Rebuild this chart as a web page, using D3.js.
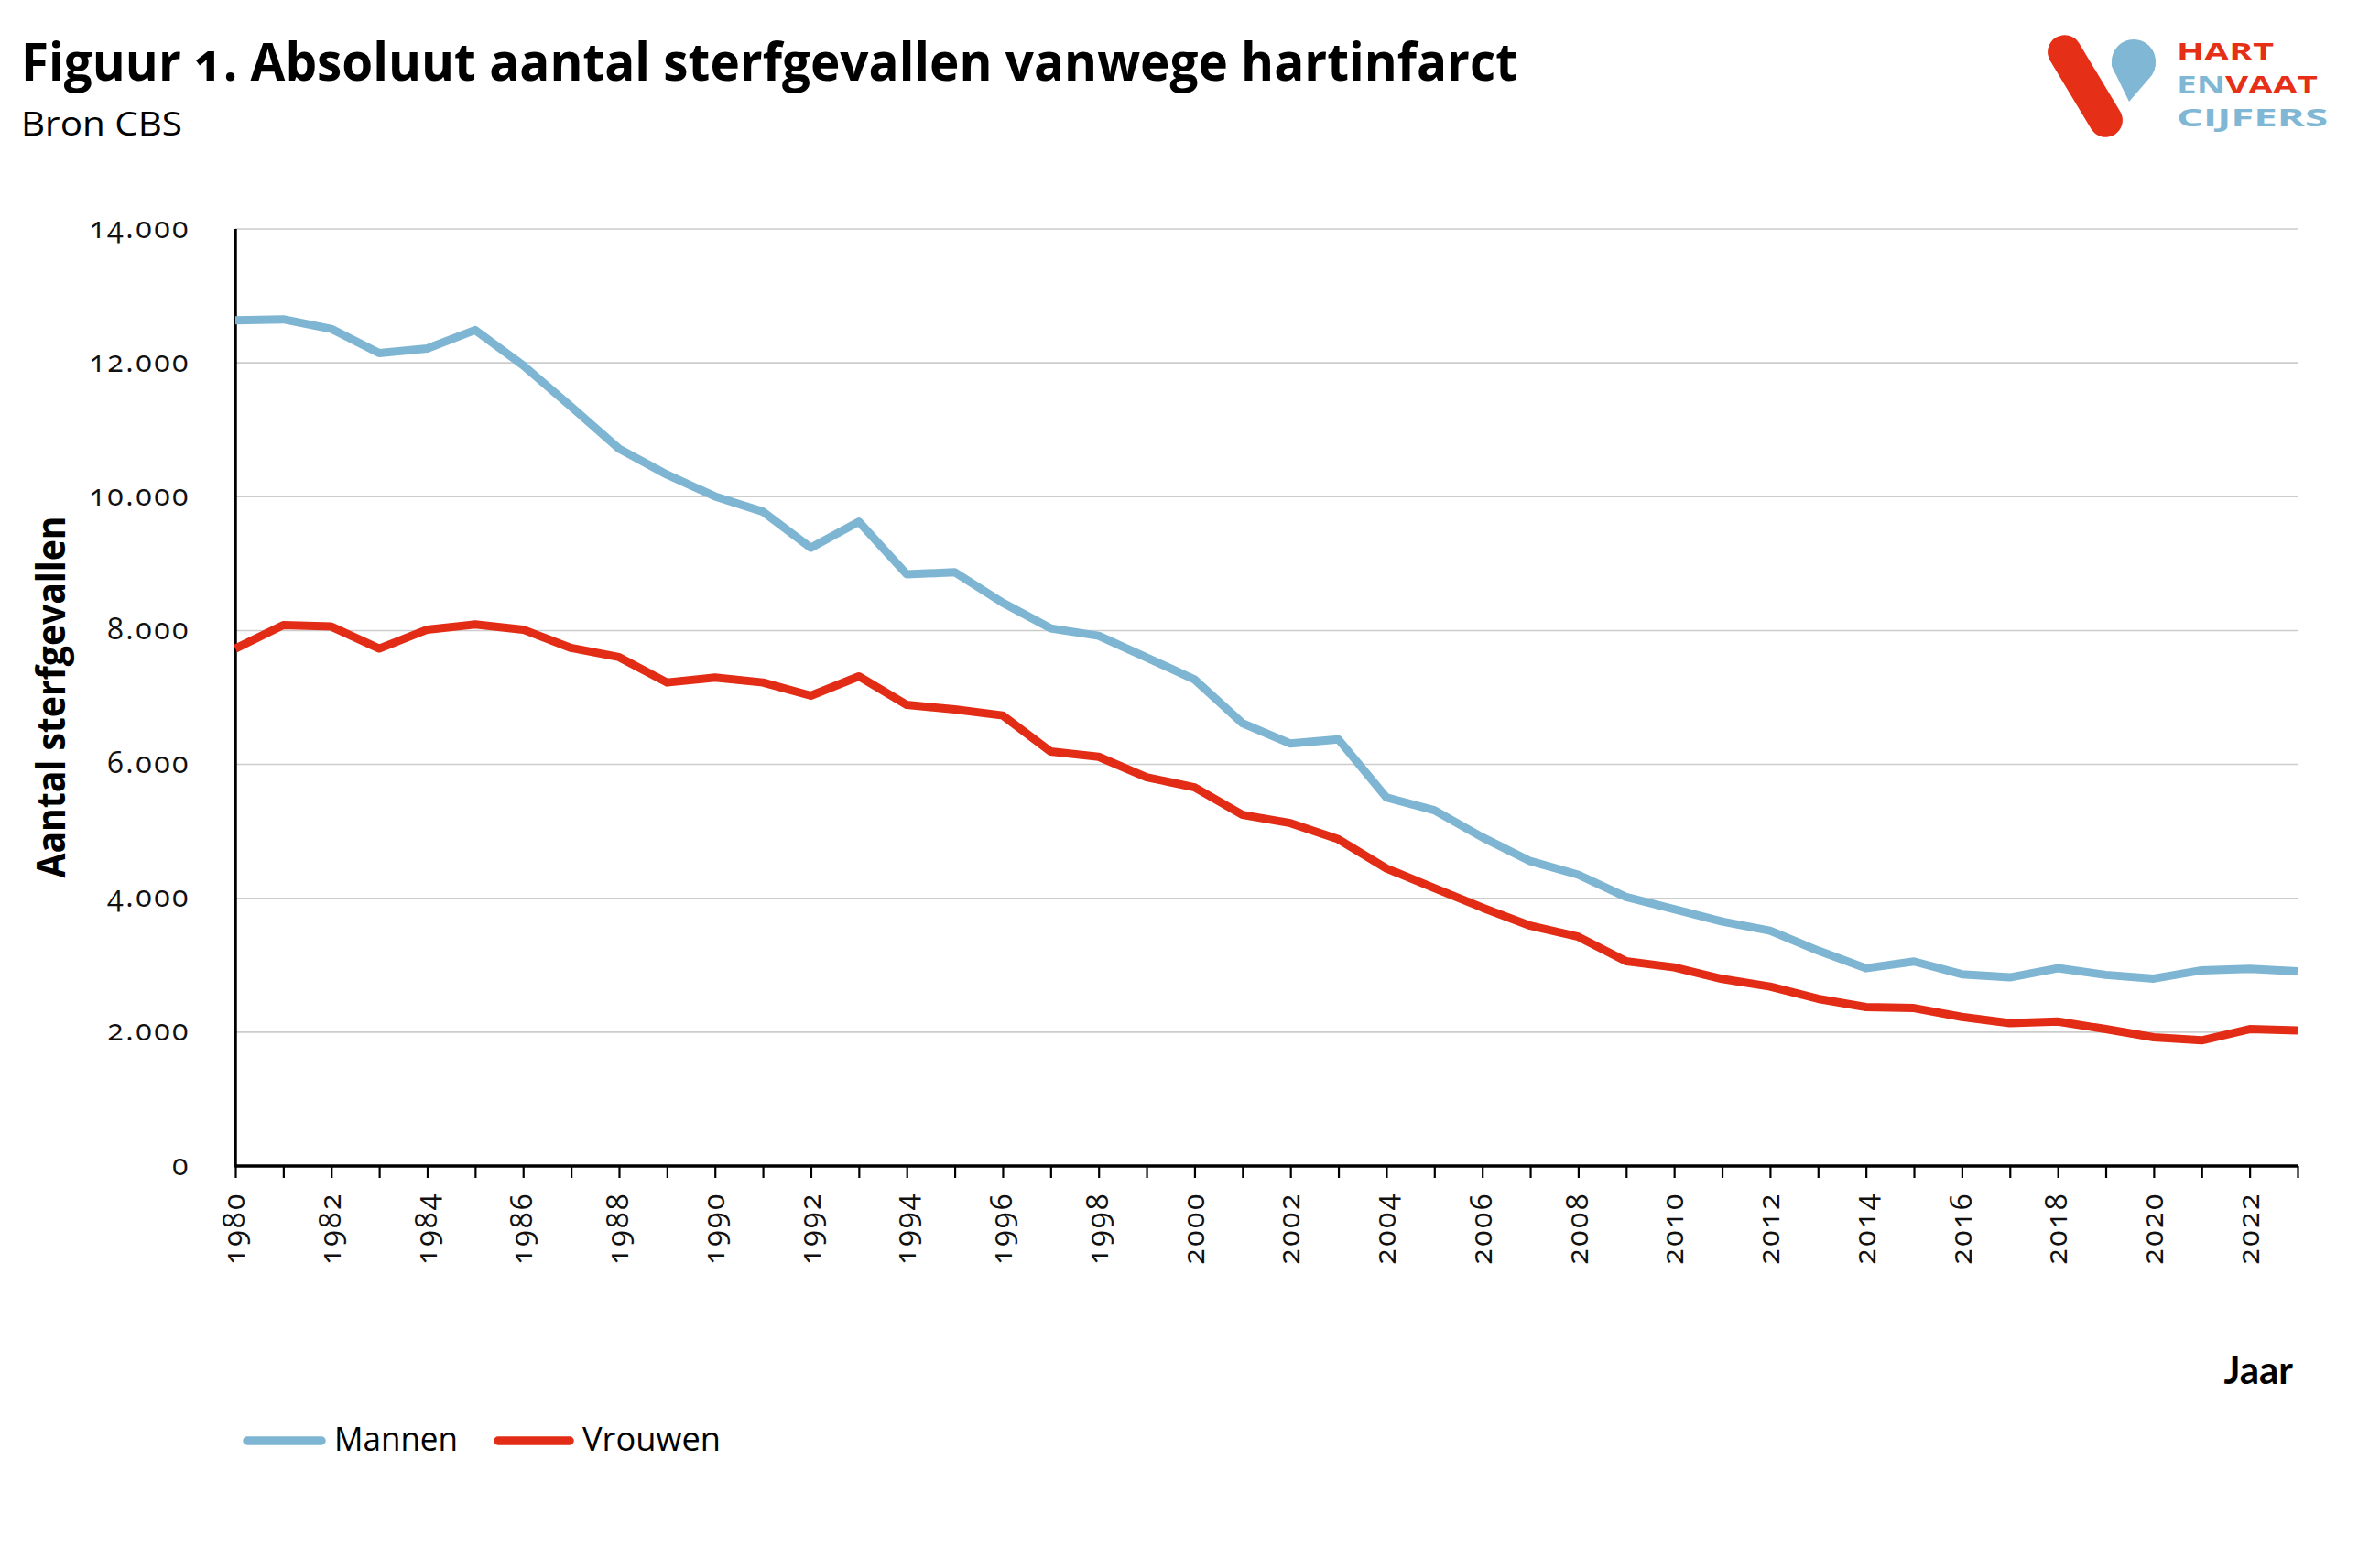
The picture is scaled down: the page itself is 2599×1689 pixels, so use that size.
<!DOCTYPE html>
<html>
<head>
<meta charset="utf-8">
<script src="https://cdn.jsdelivr.net/npm/d3@7"></script>
<style>
  html, body { margin: 0; padding: 0; background: #fff; }
  svg { display: block; }
  .num { font-family: "Open Sans", "Noto Sans", sans-serif; font-variant-numeric: oldstyle-nums; font-feature-settings: "onum" 1; }
  .onum { font-variant-numeric: oldstyle-nums; font-feature-settings: "onum" 1; }
</style>
</head>
<body>
<script>
// ---- data ----
const years = [1980,1981,1982,1983,1984,1985,1986,1987,1988,1989,1990,1991,1992,1993,1994,1995,1996,1997,1998,1999,2000,2001,2002,2003,2004,2005,2006,2007,2008,2009,2010,2011,2012,2013,2014,2015,2016,2017,2018,2019,2020,2021,2022,2023];
const mannen = [12635,12650,12507,12146,12215,12490,11963,11347,10717,10330,10005,9776,9237,9626,8840,8872,8416,8032,7922,7598,7269,6616,6311,6374,5507,5315,4911,4555,4352,4018,3836,3653,3516,3219,2954,3055,2864,2818,2955,2855,2800,2923,2945,2909];
const vrouwen = [7731,8082,8060,7731,8014,8091,8014,7740,7603,7224,7297,7224,7027,7315,6890,6822,6731,6192,6114,5808,5658,5247,5123,4881,4447,4151,3860,3590,3425,3059,2968,2795,2680,2498,2374,2360,2227,2136,2159,2045,1923,1877,2045,2027];
const seriesNames = ["Mannen", "Vrouwen"];
const yTicks = [0,2000,4000,6000,8000,10000,12000,14000];
const yTickLabels = ["0","2.000","4.000","6.000","8.000","10.000","12.000","14.000"];
const xLabelYears = [1980,1982,1984,1986,1988,1990,1992,1994,1996,1998,2000,2002,2004,2006,2008,2010,2012,2014,2016,2018,2020,2022];

(function () {
// ---- layout / style ----
const W = 2599, H = 1689;
const blue = "#7eb5d2", red = "#e32c15";
const colors = [blue, red];
const pLeft = 257, pRight = 2509, pTop = 250, pBottom = 1273;

const svg = d3.select("body").append("svg").attr("width", W).attr("height", H);

const x = d3.scaleLinear().domain([years[0], years[years.length-1]]).range([pLeft, pRight]);
const y = d3.scaleLinear().domain([0, 14000]).range([pBottom, pTop]);

// gridlines
svg.append("g").selectAll("line").data(yTicks.filter(d => d > 0)).join("line")
  .attr("x1", pLeft).attr("x2", pRight)
  .attr("y1", d => y(d)).attr("y2", d => y(d))
  .attr("stroke", "#cccccc").attr("stroke-width", 1.6);

// y tick labels
svg.append("g").selectAll("text").data(yTicks).join("text")
  .attr("class", "num")
  .attr("x", 208).attr("y", d => y(d))
  .attr("dy", "0.3em")
  .attr("text-anchor", "end")
  .attr("font-size", 32)
  .attr("letter-spacing", 2.5)
  .attr("fill", "#111")
  .text((d, i) => yTickLabels[i]);

// x axis with yearly ticks
const xAxis = d3.axisBottom(x)
  .tickValues(years)
  .tickSize(13)
  .tickFormat(d => xLabelYears.includes(d) ? String(d) : "");
const gx = svg.append("g").attr("transform", `translate(0,${pBottom})`).call(xAxis);
gx.select(".domain").attr("stroke", "#000").attr("stroke-width", 3.5).attr("d", `M${pLeft},0H${pRight}`);
gx.selectAll(".tick line").attr("stroke", "#000").attr("stroke-width", 2.2);
gx.selectAll(".tick text")
  .attr("class", "num")
  .attr("font-size", 32)
  .attr("letter-spacing", 2.5)
  .attr("fill", "#111")
  .attr("text-anchor", "end")
  .attr("transform", "rotate(-90)")
  .attr("x", -28).attr("y", 0).attr("dy", "0.3em");

// y axis line
svg.append("line").attr("x1", pLeft).attr("x2", pLeft).attr("y1", pTop).attr("y2", pBottom + 1.5)
  .attr("stroke", "#000").attr("stroke-width", 3.5);

// lines
const line = d3.line().x((d, i) => x(years[i])).y(d => y(d));
[mannen, vrouwen].forEach((s, k) => {
  svg.append("path").datum(s)
    .attr("d", line)
    .attr("fill", "none")
    .attr("stroke", colors[k])
    .attr("stroke-width", 9)
    .attr("stroke-linejoin", "round");
});

// titles
svg.append("text").attr("x", 23).attr("y", 88)
  .attr("class", "onum")
  .attr("font-family", "Open Sans, sans-serif").attr("font-weight", 700)
  .attr("font-size", 57).attr("fill", "#000")
  .attr("textLength", 1634).attr("lengthAdjust", "spacingAndGlyphs")
  .text("Figuur 1. Absoluut aantal sterfgevallen vanwege hartinfarct");
svg.append("text").attr("x", 23).attr("y", 148)
  .attr("font-family", "Open Sans, sans-serif").attr("font-weight", 400)
  .attr("font-size", 37).attr("fill", "#000")
  .attr("textLength", 176).attr("lengthAdjust", "spacingAndGlyphs")
  .text("Bron CBS");

// axis titles
svg.append("text")
  .attr("transform", `translate(71,761) rotate(-90)`)
  .attr("text-anchor", "middle")
  .attr("font-family", "Open Sans, sans-serif").attr("font-weight", 700)
  .attr("font-size", 43).attr("fill", "#000")
  .attr("textLength", 395).attr("lengthAdjust", "spacingAndGlyphs")
  .text("Aantal sterfgevallen");
svg.append("text").attr("x", 2504).attr("y", 1511)
  .attr("text-anchor", "end")
  .attr("font-family", "Lato, sans-serif").attr("font-weight", 700)
  .attr("font-size", 42).attr("fill", "#000")
  .text("Jaar");

// legend
const legendItems = [
  {name: seriesNames[0], color: colors[0], x0: 265, x1: 356, tx: 365, tw: 135},
  {name: seriesNames[1], color: colors[1], x0: 539, x1: 627, tx: 636, tw: 151}
];
const lg = svg.append("g");
legendItems.forEach(it => {
  lg.append("line").attr("x1", it.x0 + 5).attr("x2", it.x1 - 5)
    .attr("y1", 1573).attr("y2", 1573)
    .attr("stroke", it.color).attr("stroke-width", 9.5).attr("stroke-linecap", "round");
  lg.append("text").attr("x", it.tx).attr("y", 1584)
    .attr("font-family", "Open Sans, sans-serif").attr("font-size", 37).attr("fill", "#000")
    .attr("textLength", it.tw).attr("lengthAdjust", "spacingAndGlyphs")
    .text(it.name);
});

// logo
const logo = svg.append("g");
const lr = "#e52f17", lb = "#7fb7d4";
logo.append("rect")
  .attr("x", -18.5).attr("y", -62).attr("width", 37).attr("height", 124)
  .attr("rx", 18.5).attr("ry", 18.5)
  .attr("fill", lr)
  .attr("transform", "translate(2277,94) rotate(-31)");
logo.append("path")
  .attr("d", "M2306,72 A24,24 0 1 1 2350,82 L2325,111 Z")
  .attr("fill", lb);
logo.append("circle").attr("cx", 2330).attr("cy", 67).attr("r", 24).attr("fill", lb);
function logoText(yy, parts, len) {
  const t = logo.append("text").attr("x", 2377).attr("y", yy)
    .attr("font-family", "Open Sans, sans-serif").attr("font-weight", 700)
    .attr("font-size", 27)
    .attr("textLength", len).attr("lengthAdjust", "spacingAndGlyphs");
  parts.forEach(p => t.append("tspan").attr("fill", p[1]).text(p[0]));
}
logoText(66, [["HART", lr]], 106);
logoText(102, [["EN", lb], ["VAAT", lr]], 154);
logoText(138, [["CIJFERS", lb]], 165);
})();
</script>
</body>
</html>
